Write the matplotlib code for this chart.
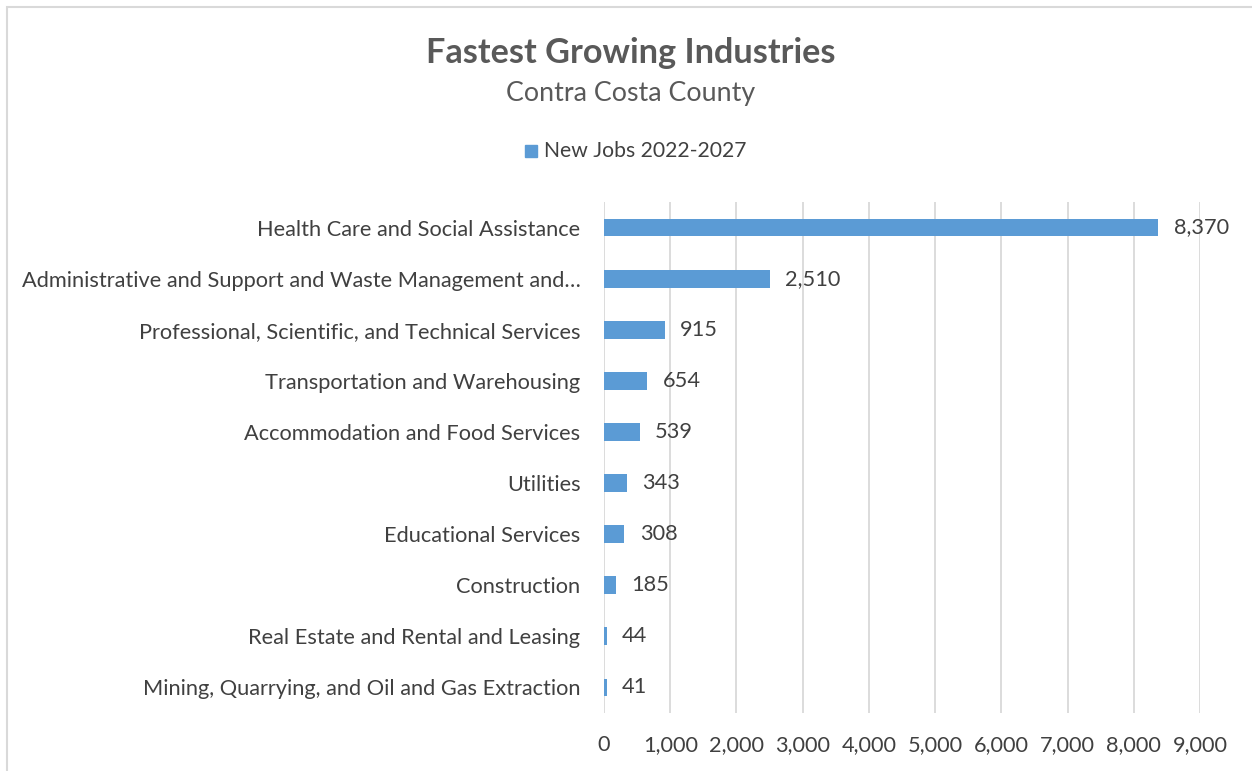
import matplotlib.pyplot as plt
from matplotlib.patches import Rectangle

industries = [
    "Health Care and Social Assistance",
    "Administrative and Support and Waste Management and\u2026",
    "Professional, Scientific, and Technical Services",
    "Transportation and Warehousing",
    "Accommodation and Food Services",
    "Utilities",
    "Educational Services",
    "Construction",
    "Real Estate and Rental and Leasing",
    "Mining, Quarrying, and Oil and Gas Extraction",
]
new_jobs = [8370, 2510, 915, 654, 539, 343, 308, 185, 44, 41]
x_ticks = [0, 1000, 2000, 3000, 4000, 5000, 6000, 7000, 8000, 9000]

bar_color = "#5b9bd5"
text_color = "#404040"
title_color = "#595959"

plt.rcParams["font.family"] = ["Lato", "DejaVu Sans"]

fig = plt.figure(figsize=(12.52, 7.71), dpi=100)
# chart frame
fig.patches.append(Rectangle((6.5 / 1252, -0.1), 1.2, 1.1 - 7.5 / 771,
                             transform=fig.transFigure, fill=False,
                             edgecolor="#d9d9d9", linewidth=1.5))

ax = fig.add_axes([604 / 1252, 1 - 713 / 771, (1200 - 604) / 1252, (713 - 202) / 771])
y = range(len(industries))
ax.barh(y, new_jobs, height=0.35, color=bar_color, zorder=3)
ax.set_ylim(len(industries) - 0.5, -0.5)
ax.set_xlim(0, 9000)
ax.set_xticks(x_ticks)
ax.set_xticklabels([f"{t:,}" for t in x_ticks])
ax.set_yticks(list(y))
ax.set_yticklabels(industries)
ax.grid(axis="x", color="#d9d9d9", linewidth=1.3, zorder=0)
for s in ax.spines.values():
    s.set_visible(False)
ax.tick_params(axis="both", length=0, labelsize=15.7, colors=text_color)
ax.tick_params(axis="x", pad=16)
ax.tick_params(axis="y", pad=17)

for i, v in enumerate(new_jobs):
    ax.annotate(f"{v:,}", (v, i), xytext=(11, 0), textcoords="offset points",
                ha="left", va="center", fontsize=15.7, color=text_color)

fig.text(631 / 1252, 1 - 53 / 771, "Fastest Growing Industries", ha="center",
         va="center", fontsize=24.7, fontweight="bold", color=title_color)
fig.text(631 / 1252, 1 - 93 / 771, "Contra Costa County", ha="center",
         va="center", fontsize=19.3, color=title_color)

# legend
fig.patches.append(Rectangle((525 / 1252, 1 - 157 / 771), 12 / 1252, 12 / 771,
                             transform=fig.transFigure, color=bar_color))
fig.text(544 / 1252, 1 - 151 / 771, "New Jobs 2022-2027", ha="left",
         va="center", fontsize=15.2, color=text_color)

fig.savefig("out.png", dpi=100, facecolor="white")
